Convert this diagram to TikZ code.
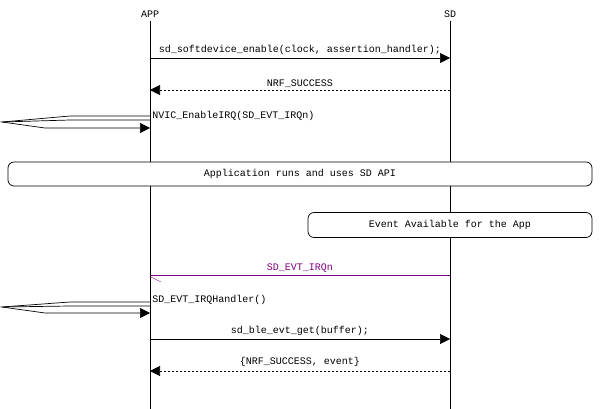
\documentclass[tikz,border=0pt]{standalone}
\usepackage{fontspec}
\setmonofont{Liberation Mono}
\usetikzlibrary{arrows.meta}
\definecolor{evt}{RGB}{128,0,128}
\begin{document}
\begin{tikzpicture}[x=1pt,y=-1pt,line width=0.7pt,
  lbl/.style={font=\ttfamily\fontsize{10}{11}\selectfont,inner sep=1pt},
  msg/.style={-{Triangle[length=10pt,width=10pt]}},
  rep/.style={msg,dash pattern=on 2pt off 2pt},
  box/.style={draw,fill=white,rounded corners=6pt,lbl}]
\useasboundingbox (0,0) rectangle (600,409);
\node[lbl] (app) at (150,14) {APP};
\node[lbl] (sd) at (450,14) {SD};
\coordinate (appb) at (150,409);
\coordinate (sdb) at (450,409);
\draw (app.south) ++(0,2) -- (appb);
\draw (sd.south) ++(0,2) -- (sdb);
% message 1
\coordinate (a1) at (150,58); \coordinate (s1) at (450,58);
\draw[msg] (a1) -- (s1);
\node[lbl] (l1) at (300,50) {sd\_softdevice\_enable(clock, assertion\_handler);};
\coordinate (a2) at (150,90); \coordinate (s2) at (450,90);
\draw[rep] (s2) -- (a2);
\node[lbl] (l2) at (300,84) {NRF\_SUCCESS};
% self arc 1
\coordinate (t1) at (150,116); \coordinate (b1) at (150,128);
\draw[msg] (t1) -- (70,116) -- (2,122) -- (45,128) -- (b1);
\draw (2,122) -- (70,120) -- (150,120);
\node[lbl,anchor=west] (l3) at (151,116) {NVIC\_EnableIRQ(SD\_EVT\_IRQn)};
% boxes
\node[box,minimum width=584pt,minimum height=24pt] (bx1) at (300,174) {Application runs and uses SD API};
\node[box,minimum width=284pt,minimum height=25pt] (bx2) at (450,225) {Event Available for the App};
% purple
\coordinate (s4) at (450,275); \coordinate (a4) at (150,275);
\draw[evt] (s4) -- (a4);
\draw[evt,thin] (151,277) -- (161,282);
\node[lbl,text=evt] (l4) at (300,268) {SD\_EVT\_IRQn};
% self arc 2
\coordinate (t2) at (150,302); \coordinate (b2) at (150,313);
\draw[msg] (t2) -- (70,302) -- (2,307) -- (45,313) -- (b2);
\draw (2,307) -- (70,306) -- (150,306);
\node[lbl,anchor=west,fill=white] (l5) at (151,300) {SD\_EVT\_IRQHandler()};
% messages
\coordinate (a6) at (150,339); \coordinate (s6) at (450,339);
\draw[msg] (a6) -- (s6);
\node[lbl] (l6) at (300,331) {sd\_ble\_evt\_get(buffer);};
\coordinate (a7) at (150,371); \coordinate (s7) at (450,371);
\draw[rep] (s7) -- (a7);
\node[lbl] (l7) at (300,362) {\{NRF\_SUCCESS, event\}};
\end{tikzpicture}
\end{document}
